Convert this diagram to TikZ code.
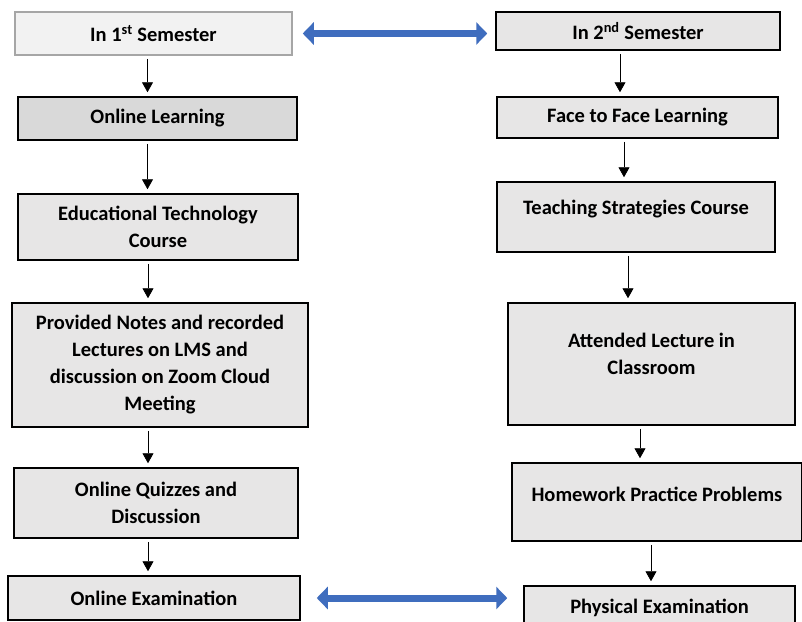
\documentclass[tikz,border=0pt]{standalone}
\usepackage{fontspec}
\setmainfont{Carlito}
\usetikzlibrary{arrows.meta}

\definecolor{boxgray}{HTML}{E7E6E6}
\definecolor{palegray}{HTML}{F2F2F2}
\definecolor{midgray}{HTML}{D9D9D9}
\definecolor{edgegray}{HTML}{A6A6A6}
\definecolor{linkblue}{HTML}{3F6DBE}

\tikzset{
  stagebox/.style={draw=black, line width=1.5pt, fill=boxgray, align=center,
    inner sep=0pt, font=\bfseries\fontsize{20.5}{27}\selectfont},
  flow/.style={-{Triangle[length=10pt,width=11pt]}, line width=0.8pt,
    shorten <=3pt, shorten >=4pt},
  link/.style={{Triangle[length=11pt,width=22pt]}-{Triangle[length=11pt,width=22pt]},
    line width=7pt, draw=linkblue},
}

\begin{document}
\begin{tikzpicture}[x=1pt, y=-1pt]
\useasboundingbox (0,0) rectangle (802,621);
\fill[white] (0,0) rectangle (802,621);

% 1st semester column
\node[stagebox, fill=palegray, draw=edgegray, minimum width=277, minimum height=43] (L1) at (153.5,33.5) {In 1\textsuperscript{st} Semester};
\node[stagebox, fill=midgray, minimum width=279, minimum height=43] (L2) at (157.5,118.5) {Online Learning};
\node[stagebox, minimum width=280, minimum height=66] (L3) at (158,227) {Educational Technology\\Course};
\node[stagebox, minimum width=296, minimum height=124] (L4) at (160,365) {Provided Notes and recorded\\Lectures on LMS and\\discussion on Zoom Cloud\\Meeting};
\node[stagebox, minimum width=284, minimum height=70] (L5) at (156,503) {Online Quizzes and\\Discussion};
\node[stagebox, minimum width=292, minimum height=44] (L6) at (154,598) {Online Examination};

% 2nd semester column
\node[stagebox, minimum width=284, minimum height=38] (R1) at (638,31) {In 2\textsuperscript{nd} Semester};
\node[stagebox, minimum width=281, minimum height=41] (R2) at (637.5,117.5) {Face to Face Learning};
\node[stagebox, minimum width=278, minimum height=70, text depth=20pt] (R3) at (636,217) {Teaching Strategies Course};
\node[stagebox, minimum width=287, minimum height=122, text depth=20pt] (R4) at (651.5,364) {Attended Lecture in\\Classroom};
\node[stagebox, minimum width=290, minimum height=78, text depth=16pt] (R5) at (657,502) {Homework Practice Problems};
\node[stagebox, minimum width=271, minimum height=44] (R6) at (659.5,608) {Physical Examination};

% flow arrows
\draw[flow] ([xshift=-6pt]L1.south) -- ([xshift=-6pt]L1.south |- L2.north);
\draw[flow] ([xshift=-10pt]L2.south) -- ([xshift=-10pt]L2.south |- L3.north);
\draw[flow] ([xshift=-10pt]L3.south) -- ([xshift=-10pt]L3.south |- L4.north);
\draw[flow] ([xshift=-12pt]L4.south) -- ([xshift=-12pt]L4.south |- L5.north);
\draw[flow] ([xshift=-8pt]L5.south) -- ([xshift=-8pt]L5.south |- L6.north);

\draw[flow] ([xshift=-18pt]R1.south) -- ([xshift=-18pt]R1.south |- R2.north);
\draw[flow] ([xshift=-13.5pt]R2.south) -- ([xshift=-13.5pt]R2.south |- R3.north);
\draw[flow] ([xshift=-8pt]R3.south) -- ([xshift=-8pt]R3.south |- R4.north);
\draw[flow] ([xshift=-11.5pt]R4.south) -- ([xshift=-11.5pt]R4.south |- R5.north);
\draw[flow] ([xshift=-6pt]R5.south) -- ([xshift=-6pt]R5.south |- R6.north);

% semester links
\draw[link] ([xshift=10pt]L1.east) -- ([xshift=-8pt]L1.east -| R1.west);
\draw[link] ([xshift=16pt]L6.east) -- ([xshift=-16pt]L6.east -| R6.west);
\end{tikzpicture}
\end{document}
